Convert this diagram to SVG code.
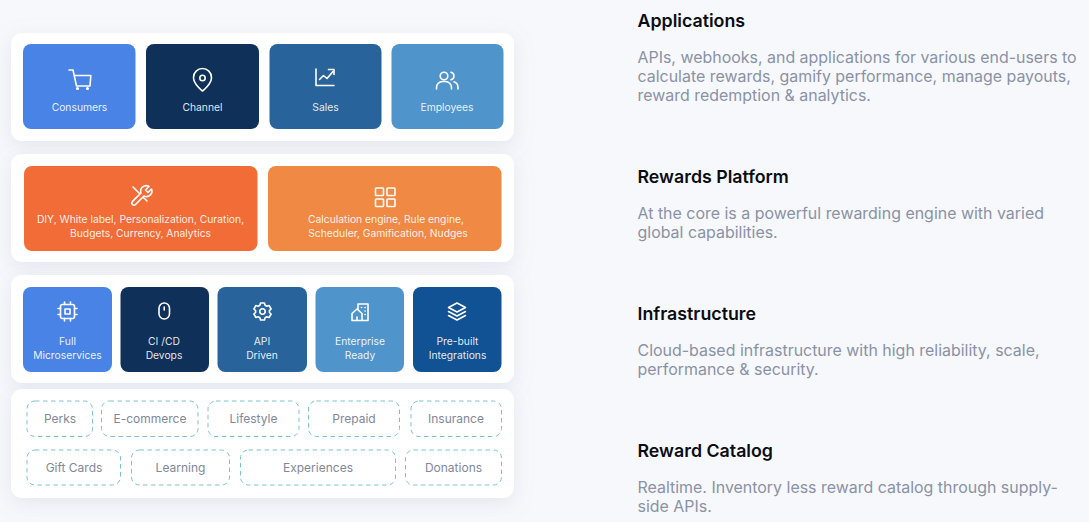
<svg xmlns="http://www.w3.org/2000/svg" width="1089" height="522" viewBox="0 0 1089 522">
<style>
text{font-family:Inter,"Noto Sans","Liberation Sans",sans-serif}
.panel{fill:#fff;filter:url(#sh)}
.card-label{fill:#fff;font-size:10.3px;text-anchor:middle;fill-opacity:.9}
.ic{fill:none;stroke:#fff;stroke-width:1.6;stroke-linecap:round;stroke-linejoin:round}
.chip{fill:#fff;stroke:#7cc3cf;stroke-width:1;stroke-dasharray:4.500 3.500}
.chip-label{fill:#81889a;font-size:12px;text-anchor:middle}
.h{fill:#0b0d12;font-size:17.8px;font-weight:600}
.p{fill:#8a92a6;font-size:15.95px}
.c1{fill:#4a83e6}.c2{fill:#0f3058}.c3{fill:#28639b}.c4{fill:#4f94cb}.c5{fill:#105293}
.o1{fill:#f16c37}.o2{fill:#f08944}
</style>
<defs>
<filter id="sh" x="-10%" y="-30%" width="120%" height="170%"><feDropShadow dx="0" dy="5" stdDeviation="10" flood-color="#8c96b8" flood-opacity=".18"/></filter>
</defs>
<rect width="1089" height="522" fill="#f7f8fb"/>
<g id="panels">
<rect class="panel" x="11" y="33" width="503" height="108" rx="11"/>
<rect class="panel" x="11" y="154" width="503" height="108" rx="11"/>
<rect class="panel" x="11" y="275" width="503" height="108" rx="11"/>
<rect class="panel" x="11" y="389" width="503" height="109" rx="11"/>
</g>
<g id="consumers"><rect class="c1" x="23" y="44" width="112.500" height="85" rx="8"/>
<g class="ic"><path d="M69 70h4l3.500 16h13.500l0.800-10.500H74.500"/><circle cx="77.500" cy="88.500" r=".8"/><circle cx="87.500" cy="88.500" r=".8"/></g>
<text class="card-label" x="79.500" y="111">Consumers</text></g>
<g id="channel"><rect class="c2" x="146" y="44" width="113" height="85" rx="8"/>
<g class="ic"><path d="M202.500 91s-9-6.800-9-13.500a9 9 0 0 1 18 0c0 6.700-9 13.500-9 13.500z"/><circle cx="202.500" cy="78" r="2.700"/></g>
<text class="card-label" x="202.500" y="111">Channel</text></g>
<g id="sales"><rect class="c3" x="269.500" y="44" width="112" height="85" rx="8"/>
<g class="ic"><path d="M316 69v16.500h18"/><path d="M319.500 79.500l4-4 3.500 3 6-7"/><path d="M328.500 69.500h5.500v5"/></g>
<text class="card-label" x="325.500" y="111">Sales</text></g>
<g id="employees"><rect class="c4" x="391.500" y="44" width="112" height="85" rx="8"/>
<g class="ic"><circle cx="444" cy="76" r="3.800"/><path d="M436.500 89v-1.500a6 6 0 0 1 6-6h3a6 6 0 0 1 6 6V89"/><path d="M451 72.300a3.800 3.800 0 0 1 0 7.400"/><path d="M454 81.800a6 6 0 0 1 4 5.500V89"/></g>
<text class="card-label" x="447" y="111">Employees</text></g>

<g id="diy"><rect class="o1" x="24" y="166" width="233.500" height="85" rx="8"/>
<g class="ic"><path d="M133 187l14 14M133 201l4.500-4.500"/><path d="M149 186.500l-3.500 3.500 2.500 2.500 3.500-3.500a5.500 5.500 0 0 1-7.500 7l-8.500 8.500a2 2 0 0 1-3-3l8.500-8.500a5.500 5.500 0 0 1 8-6.500z" fill="#f16c37"/></g>
<text class="card-label" x="140.500" y="223">DIY, White label, Personalization, Curation,</text>
<text class="card-label" x="140.500" y="237">Budgets, Currency, Analytics</text></g>
<g id="calculation"><rect class="o2" x="268" y="166" width="233.500" height="85" rx="8"/>
<g class="ic"><rect x="375.500" y="188" width="8" height="7.500" rx=".8"/><rect x="387" y="188" width="8" height="7.500" rx=".8"/><rect x="375.500" y="199" width="8" height="7.500" rx=".8"/><rect x="387" y="199" width="8" height="7.500" rx=".8"/></g>
<text class="card-label" x="386" y="223">Calculation engine, Rule engine,</text>
<text class="card-label" x="388" y="237">Scheduler, Gamification, Nudges</text></g>

<g id="microservices"><rect class="c1" x="23" y="287" width="89" height="85" rx="8"/>
<g class="ic"><rect x="60.500" y="304.500" width="14" height="14" rx="2"/><rect x="65" y="309" width="5" height="5"/><path d="M64.500 302v2.500M70.500 302v2.500M64.500 318.500v2.500M70.500 318.500v2.500M58 308.500h2.500M58 314.500h2.500M74.500 308.500h2.500M74.500 314.500h2.500"/></g>
<text class="card-label" x="67.500" y="345">Full</text><text class="card-label" x="67.500" y="359">Microservices</text></g>
<g id="cicd"><rect class="c2" x="120.500" y="287" width="88.500" height="85" rx="8"/>
<g class="ic"><rect x="159" y="303" width="10.500" height="16" rx="5.200"/><path d="M164.200 307v3"/></g>
<text class="card-label" x="164" y="345">CI /CD</text><text class="card-label" x="164" y="359">Devops</text></g>
<g id="api"><rect class="c3" x="217.500" y="287" width="89.500" height="85" rx="8"/>
<g class="ic"><circle cx="262.500" cy="311.500" r="2.700"/><path d="M260.500 303h4l.6 2.300 1.700.9 2.300-.7 2 3.500-1.700 1.600v1.800l1.700 1.600-2 3.500-2.300-.7-1.700.9-.6 2.300h-4l-.6-2.300-1.700-.9-2.300.7-2-3.500 1.700-1.600v-1.800l-1.700-1.600 2-3.500 2.300.7 1.700-.9z"/></g>
<text class="card-label" x="262" y="345">API</text><text class="card-label" x="262" y="359">Driven</text></g>
<g id="enterprise"><rect class="c4" x="315.500" y="287" width="88.500" height="85" rx="8"/>
<g class="ic" stroke-width="1.500"><path d="M358 310v-6h10v16.500h-16v-7l5-4.500 5 4.500v7"/><path d="M361.500 307.500h.1M365 307.500h.1M365 311h.1M365 314.500h.1M357 320.500v-3.500"/></g>
<text class="card-label" x="360" y="345">Enterprise</text><text class="card-label" x="360" y="359">Ready</text></g>
<g id="integrations"><rect class="c5" x="413" y="287" width="88.500" height="85" rx="8"/>
<g class="ic"><path d="M457 303l-8.500 4.500 8.500 4.500 8.500-4.500z"/><path d="M448.500 311.500l8.500 4.500 8.500-4.500"/><path d="M448.500 315.500l8.500 4.500 8.500-4.500"/></g>
<text class="card-label" x="457.500" y="345">Pre-built</text><text class="card-label" x="457.500" y="359">Integrations</text></g>

<g id="perks"><rect class="chip" x="27" y="401" width="65.500" height="35.500" rx="8"/><text class="chip-label" x="60" y="423">Perks</text></g>
<g id="ecommerce"><rect class="chip" x="101.500" y="401" width="96.500" height="35.500" rx="8"/><text class="chip-label" x="150" y="423">E-commerce</text></g>
<g id="lifestyle"><rect class="chip" x="208" y="401" width="91" height="35.500" rx="8"/><text class="chip-label" x="253.500" y="423">Lifestyle</text></g>
<g id="prepaid"><rect class="chip" x="308.500" y="401" width="91" height="35.500" rx="8"/><text class="chip-label" x="354" y="423">Prepaid</text></g>
<g id="insurance"><rect class="chip" x="411" y="401" width="90.500" height="35.500" rx="8"/><text class="chip-label" x="456" y="423">Insurance</text></g>
<g id="giftcards"><rect class="chip" x="27" y="450" width="93.500" height="35" rx="8"/><text class="chip-label" x="74" y="471.500">Gift Cards</text></g>
<g id="learning"><rect class="chip" x="131.500" y="450" width="98" height="35" rx="8"/><text class="chip-label" x="180.500" y="471.500">Learning</text></g>
<g id="experiences"><rect class="chip" x="240.500" y="450" width="155" height="35" rx="8"/><text class="chip-label" x="318" y="471.500">Experiences</text></g>
<g id="donations"><rect class="chip" x="405.500" y="450" width="96" height="35" rx="8"/><text class="chip-label" x="453.500" y="471.500">Donations</text></g>

<g id="connectors"></g>

<g id="desc-applications"><text class="h" x="637.500" y="27">Applications</text>
<text class="p" x="637.500" y="63">APIs, webhooks, and applications for various end-users to</text>
<text class="p" x="637.500" y="82">calculate rewards, gamify performance, manage payouts,</text>
<text class="p" x="637.500" y="101">reward redemption &amp; analytics.</text></g>
<g id="desc-platform"><text class="h" x="637.500" y="183">Rewards Platform</text>
<text class="p" x="637.500" y="219">At the core is a powerful rewarding engine with varied</text>
<text class="p" x="637.500" y="238">global capabilities.</text></g>
<g id="desc-infrastructure"><text class="h" x="637.500" y="320">Infrastructure</text>
<text class="p" x="637.500" y="356">Cloud-based infrastructure with high reliability, scale,</text>
<text class="p" x="637.500" y="375">performance &amp; security.</text></g>
<g id="desc-catalog"><text class="h" x="637.500" y="457">Reward Catalog</text>
<text class="p" x="637.500" y="493">Realtime. Inventory less reward catalog through supply-</text>
<text class="p" x="637.500" y="512">side APIs.</text></g>
</svg>
